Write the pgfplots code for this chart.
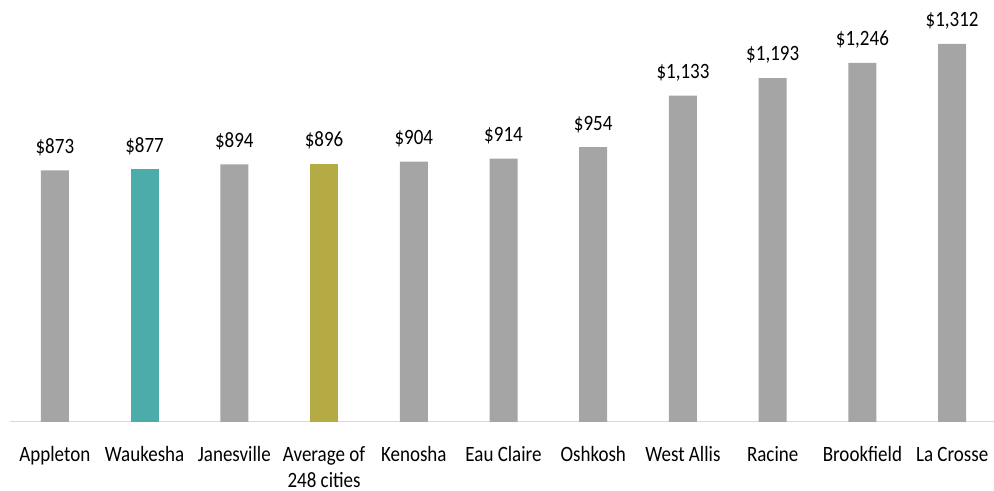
\documentclass[border=0pt]{standalone}
\usepackage{pgfplots}
\pgfplotsset{compat=1.18}
\usepackage{fontspec}
\usepackage{graphicx}
\setmainfont{Carlito}
\usetikzlibrary{calc}
\definecolor{bgray}{HTML}{A5A5A5}
\definecolor{bteal}{HTML}{4BACA9}
\definecolor{bolive}{HTML}{B5AB45}
\definecolor{axgray}{HTML}{D9D9D9}
\newcommand\vs[1]{\scalebox{1}[1.15]{#1}}
\begin{document}
\fontsize{19pt}{26pt}\selectfont
\begin{tikzpicture}
\begin{axis}[
  scale only axis,
  width=987pt, height=403.4pt,
  xmin=-0.5, xmax=10.5, ymin=0, ymax=1400,
  ybar, bar width=28pt, bar shift=0pt,
  axis y line=none,
  axis x line*=bottom,
  x axis line style={draw=axgray, line width=1pt, -},
  xtick={0,...,10},
  xticklabels={\vs{Appleton},\vs{Waukesha},\vs{Janesville},{\begin{tabular}[t]{@{}c@{}}\vs{Average of}\\\vs{248 cities}\end{tabular}},\vs{Kenosha},\vs{Eau Claire},\vs{Oshkosh},\vs{West Allis},\vs{Racine},\vs{Brookfield},\vs{La Crosse}},
  major tick length=0pt,
  xticklabel style={font=\fontsize{19pt}{26pt}\selectfont, anchor=base, yshift=-39.5pt, inner sep=0pt},
  point meta=explicit symbolic,
  nodes near coords={\vs{\pgfplotspointmeta}},
  every node near coord/.append style={font=\fontsize{19pt}{23pt}\selectfont, color=black, yshift=8pt},
  clip=false,
]
\addplot[fill=bgray, draw=none] coordinates {
  (0,873) [\$873] (2,894) [\$894] (4,904) [\$904] (5,914) [\$914] (6,954) [\$954]
  (7,1133) [\$1,133] (8,1193) [\$1,193] (9,1246) [\$1,246] (10,1312) [\$1,312]
};
\addplot[fill=bteal, draw=none] coordinates {(1,877) [\$877]};
\addplot[fill=bolive, draw=none] coordinates {(3,896) [\$896]};
\end{axis}
\pgfresetboundingbox
\path ($(current axis.south west)+(-10pt,-69pt)$) rectangle ($(current axis.north east)+(-3pt,18.6pt)$);
\end{tikzpicture}
\end{document}
